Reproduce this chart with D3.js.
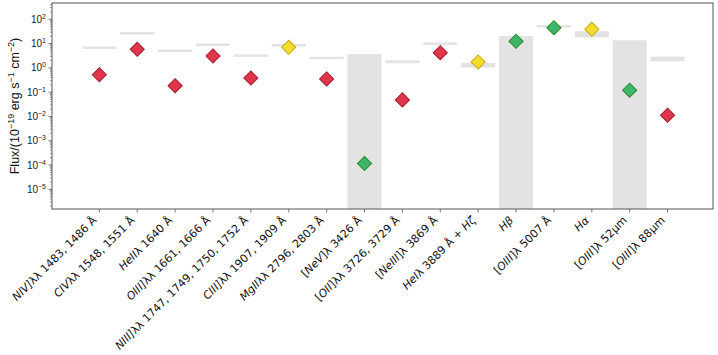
<!DOCTYPE html>
<html><head><meta charset="utf-8">
<script src="https://cdn.jsdelivr.net/npm/d3@7"></script>
<style>body{margin:0;background:#fff}svg{display:block}</style>
</head><body>
<svg id="c" width="718" height="355"></svg>
<script>
// Categories (italic segments between *)
const categories = [
  "*NIV]*λλ 1483, 1486 Å",
  "*CIV*λλ 1548, 1551 Å",
  "*HeII*λ 1640 Å",
  "*OIII]*λλ 1661, 1666 Å",
  "*NIII]*λλ 1747, 1749, 1750, 1752 Å",
  "*CIII]*λλ 1907, 1909 Å",
  "*MgII*λλ 2796, 2803 Å",
  "[*NeV*]λ 3426 Å",
  "[*OII*]λλ 3726, 3729 Å",
  "[*NeIII*]λ 3869 Å",
  "*HeI*λ 3889 Å + *Hζ*",
  "*Hβ*",
  "[*OIII*]λ 5007 Å",
  "*Hα*",
  "[*OIII*]λ 52μm",
  "[*OIII*]λ 88μm"
];
// measured fluxes (diamonds)
const fluxes = [0.52, 5.8, 0.185, 3.1, 0.38, 7.0, 0.35, 1.15e-4, 0.048, 4.2, 1.75, 12.4, 45, 38.7, 0.12, 0.0112];
// marker class: r=red, y=yellow, g=green
const markerClass = ["r","r","r","r","r","y","r","g","r","r","y","g","g","y","g","r"];
// predicted range (grey band) low/high; full column where low is null
const bandLow  = [6.8, 26.5, 5.1, 9.0, 3.2, 8.5, 2.55, null, 1.55, 9.9, 1.03, null, 51.5, 18, null, 1.87];
const bandHigh = [6.8, 26.5, 5.1, 9.0, 3.2, 8.5, 2.55, 3.7, 2.05, 9.9, 1.62, 20.6, 51.5, 32, 13.7, 2.9];
const yTicks = [1e2, 1e1, 1e0, 1e-1, 1e-2, 1e-3, 1e-4, 1e-5];

const fills = {r:"#e0364b", y:"#f4dc2e", g:"#3db56b"};
const strokes = {r:"#a81c2e", y:"#c9a912", g:"#2f8a22"};

const svg = d3.select("#c");
const L = 52, R = 713, T = 3, B = 209;
const x = d3.scaleLinear().domain([-1.25, 16.2]).range([L, R]);
const y = d3.scaleLog().domain([10**-5.81, 10**2.67]).range([B, T]);
const bw = 0.9 * (x(1) - x(0));

// bands
const g = svg.append("g");
categories.forEach((c, i) => {
  const hi = bandHigh[i], lo = bandLow[i];
  let y0, y1;
  if (lo === null) { y0 = y(hi); y1 = B; }
  else { y0 = y(hi); y1 = y(lo); if (y1 - y0 < 2.5) { const m = (y0 + y1) / 2; y0 = m - 1.25; y1 = m + 1.25; } }
  g.append("rect").attr("x", x(i) - bw / 2).attr("y", y0).attr("width", bw).attr("height", y1 - y0)
    .attr("fill", "#e3e3e3");
});

// diamonds
const sym = d3.symbol().type(d3.symbolSquare).size(100);
fluxes.forEach((v, i) => {
  svg.append("path").attr("d", sym())
    .attr("transform", `translate(${x(i)},${y(v)}) rotate(45)`)
    .attr("fill", fills[markerClass[i]]).attr("stroke", strokes[markerClass[i]]).attr("stroke-width", 1);
});

// frame
svg.append("rect").attr("x", L).attr("y", T).attr("width", R - L).attr("height", B - T)
  .attr("fill", "none").attr("stroke", "#555").attr("stroke-width", 1);

// y axis ticks
const ya = svg.append("g").attr("font-family", "Liberation Sans, Arial, sans-serif").attr("font-size", 10).attr("fill", "#222");
for (let e = -6; e <= 2; e++) {
  for (let k = 2; k <= 9; k++) {
    const v = k * 10 ** e;
    if (v < y.domain()[0] || v > y.domain()[1]) continue;
    ya.append("line").attr("x1", L).attr("x2", L - 2).attr("y1", y(v)).attr("y2", y(v)).attr("stroke", "#555").attr("stroke-width", 0.6);
  }
}
yTicks.forEach(v => {
  ya.append("line").attr("x1", L).attr("x2", L - 3.5).attr("y1", y(v)).attr("y2", y(v)).attr("stroke", "#555").attr("stroke-width", 0.8);
  const e = Math.round(Math.log10(v));
  const t = ya.append("text").attr("x", L - 6).attr("y", y(v) + 3.5).attr("text-anchor", "end");
  t.append("tspan").text("10");
  t.append("tspan").attr("dy", -4).attr("font-size", 7).text(e < 0 ? "−" + (-e) : String(e));
});

// y label
const yl = svg.append("text").attr("transform", `translate(19,${(T + B) / 2}) rotate(-90)`)
  .attr("text-anchor", "middle").attr("font-family", "Liberation Sans, Arial, sans-serif").attr("font-size", 12.5).attr("fill", "#111");
yl.append("tspan").text("Flux/(10");
yl.append("tspan").attr("dy", -5).attr("font-size", 9).text("−19");
yl.append("tspan").attr("dy", 5).text(" erg s");
yl.append("tspan").attr("dy", -5).attr("font-size", 9).text("−1");
yl.append("tspan").attr("dy", 5).text(" cm");
yl.append("tspan").attr("dy", -5).attr("font-size", 9).text("−2");
yl.append("tspan").attr("dy", 5).text(")");

// x axis
const xa = svg.append("g").attr("font-family", "DejaVu Sans, sans-serif").attr("font-size", 11).attr("fill", "#111");
categories.forEach((c, i) => {
  xa.append("line").attr("x1", x(i)).attr("x2", x(i)).attr("y1", B).attr("y2", B + 3.5).attr("stroke", "#555").attr("stroke-width", 0.8);
  const t = xa.append("text").attr("text-anchor", "end")
    .attr("transform", `translate(${x(i) - 2},${B + 12}) rotate(-45)`);
  c.split("*").forEach((s, k) => { if (s) t.append("tspan").attr("font-style", k % 2 ? "italic" : "normal").text(s); });
});
</script>
</body></html>
